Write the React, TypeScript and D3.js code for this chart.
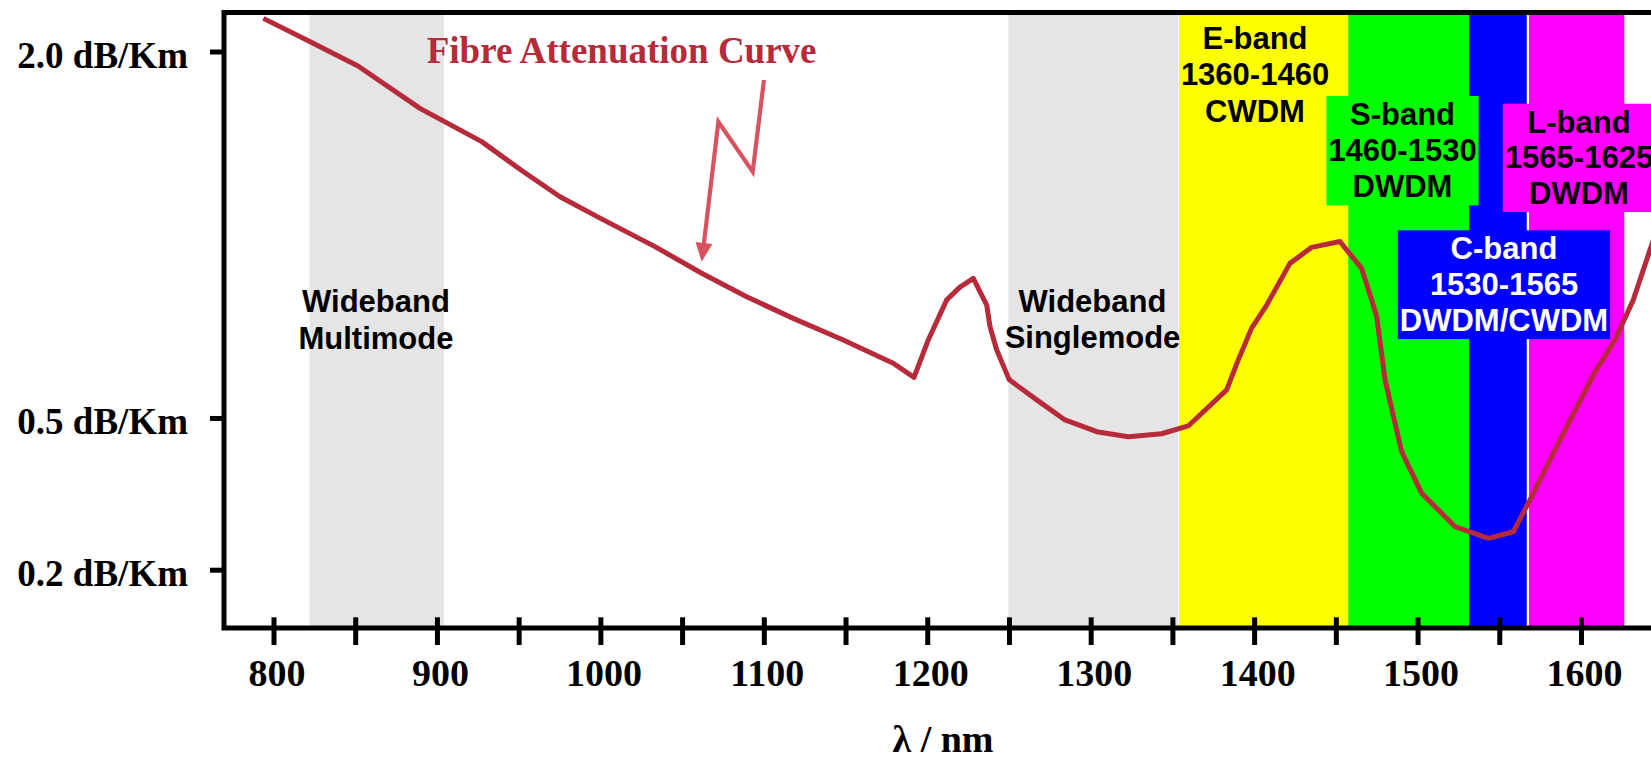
import * as d3 from 'd3';
import React, { useRef, useEffect } from 'react';

// attenuation curve (nm, dB/Km)
const wavelengths = [793.8, 820.3, 851.7, 889.6, 927.4, 951.4, 975.3, 999.8, 1033.4, 1062.0, 1089.5, 1118.0, 1148.6, 1179.2, 1191.9, 1200.6, 1211.9, 1220.0, 1228.2, 1236.4, 1238.4, 1242.5, 1250.2, 1267.0, 1284.3, 1303.7, 1323.0, 1343.4, 1359.7, 1383.2, 1390.3, 1398.5, 1407.7, 1421.9, 1435.2, 1452.5, 1465.8, 1471.9, 1475.0, 1480.1, 1490.3, 1502.5, 1522.9, 1543.3, 1558.6, 1568.8, 1589.2, 1608.6, 1620.8, 1632.0, 1642.2, 1651.4];
const attenuation = [2.198, 2.067, 1.917, 1.686, 1.517, 1.381, 1.260, 1.168, 1.052, 0.950, 0.865, 0.791, 0.721, 0.650, 0.609, 0.721, 0.854, 0.899, 0.931, 0.836, 0.764, 0.690, 0.602, 0.547, 0.495, 0.466, 0.454, 0.461, 0.480, 0.574, 0.660, 0.759, 0.836, 0.987, 1.049, 1.072, 0.968, 0.854, 0.797, 0.602, 0.419, 0.331, 0.269, 0.249, 0.260, 0.318, 0.462, 0.625, 0.721, 0.854, 1.039, 1.220];

const xTicks = d3.range(800, 1651, 50);
const yTicks = [0.2, 0.5, 2.0];

// wavelength bands (nm)
const bandStart = [822, 1249.6, 1354, 1457.6, 1531.6, 1568.2];
const bandEnd = [904.3, 1353.4, 1457.6, 1531.6, 1566.8, 1626.5];
const bandText = [
    ['Wideband', 'Multimode'],
    ['Wideband', 'Singlemode'],
    ['E-band', '1360-1460', 'CWDM'],
    ['S-band', '1460-1530', 'DWDM'],
    ['C-band', '1530-1565', 'DWDM/CWDM'],
    ['L-band', '1565-1625', 'DWDM'],
];

// pointer arrow (nm, dB/Km)
const arrowNm = [1100.1, 1093.2, 1072.2, 1062.0];
const arrowDb = [1.8385, 1.3733, 1.6169, 0.9932];

const bandColors = ['#e5e5e5', '#e5e5e5', '#ffff00', '#00ff00', '#0000ff', '#ff00ff'];
const bandTextColors = ['#000', '#000', '#000', '#000', '#fff', '#000'];
const bandBoxed = [false, false, false, true, true, true];
// centre x, first baseline, line height
const labelPos = [
    { cx: 376, y: 311.7, lh: 37.6 },
    { cx: 1092.5, y: 311.7, lh: 36.6 },
    { cx: 1255, y: 48.5, lh: 36.6 },
    { cx: 1402.5, y: 125, lh: 36.2 },
    { cx: 1504, y: 259.3, lh: 35.9 },
    { cx: 1579, y: 132.7, lh: 35.7 },
];

const WIDTH = 1651;
const HEIGHT = 757;
const frame = { left: 224, top: 12.5, bottom: 628, right: 1720 };
const CURVE = '#b72a3a';
const ARROW = '#d8535f';
const SERIF = '"Liberation Serif", "Times New Roman", serif';
const SANS = '"Liberation Sans", Arial, sans-serif';

function App() {
    const ref = useRef<SVGSVGElement>(null);

    useEffect(() => {
        const svg = d3.select(ref.current);
        svg.selectAll('*').remove();

        const x = d3.scaleLinear().domain([800, 1600]).range([273.5, 1581]);
        const y = d3.scalePow().exponent(0.4).domain([0.2, 2.0]).range([569.7, 51.5]);

        // bands
        svg.append('g')
            .selectAll('rect')
            .data(bandStart)
            .enter()
            .append('rect')
            .attr('x', (d) => x(d))
            .attr('y', frame.top)
            .attr('width', (d, i) => x(bandEnd[i]) - x(d))
            .attr('height', frame.bottom - frame.top)
            .attr('fill', (d, i) => bandColors[i]);

        // curve
        const pts = wavelengths.map((w, i) => [w, attenuation[i]]);
        const line = d3.line().x((d) => x(d[0])).y((d) => y(d[1]));
        svg.append('path')
            .datum(pts)
            .attr('d', line)
            .attr('fill', 'none')
            .attr('stroke', CURVE)
            .attr('stroke-width', 5)
            .attr('stroke-linejoin', 'round');

        // band labels
        const labels = svg.append('g')
            .attr('font-family', SANS)
            .attr('font-weight', 'bold')
            .attr('font-size', 31)
            .attr('text-anchor', 'middle');
        bandText.forEach((lines, i) => {
            const p = labelPos[i];
            const g = labels.append('g');
            const t = g.append('text').attr('fill', bandTextColors[i]);
            lines.forEach((s, j) => {
                t.append('tspan').attr('x', p.cx).attr('y', p.y + j * p.lh).text(s);
            });
            if (bandBoxed[i]) {
                const b = (t.node() as SVGTextElement).getBBox();
                g.insert('rect', 'text')
                    .attr('x', b.x - 2)
                    .attr('y', b.y - 1)
                    .attr('width', b.width + 4)
                    .attr('height', b.height + 2)
                    .attr('fill', bandColors[i]);
            }
        });

        // title
        svg.append('text')
            .attr('x', 426.7)
            .attr('y', 62.7)
            .attr('font-family', SERIF)
            .attr('font-weight', 'bold')
            .attr('font-size', 37)
            .attr('fill', CURVE)
            .text('Fibre Attenuation Curve');

        // arrow
        const ap = arrowNm.map((n, i) => [x(n), y(arrowDb[i])]);
        const tip = ap[ap.length - 1];
        const prev = ap[ap.length - 2];
        const len = Math.hypot(tip[0] - prev[0], tip[1] - prev[1]);
        const ux = (tip[0] - prev[0]) / len;
        const uy = (tip[1] - prev[1]) / len;
        const headLen = 19, headHalf = 8.5;
        const shaft = ap.slice(0, -1).concat([[tip[0] - ux * (headLen - 3), tip[1] - uy * (headLen - 3)]]);
        svg.append('path')
            .datum(shaft)
            .attr('d', d3.line())
            .attr('fill', 'none')
            .attr('stroke', ARROW)
            .attr('stroke-width', 4.2)
            .attr('stroke-linejoin', 'miter');
        const bx = tip[0] - ux * headLen, by = tip[1] - uy * headLen;
        svg.append('path')
            .attr('d', `M${tip[0]},${tip[1]}L${bx - uy * headHalf},${by + ux * headHalf}L${bx + uy * headHalf},${by - ux * headHalf}Z`)
            .attr('fill', ARROW);

        // frame
        svg.append('path')
            .attr('d', `M${frame.right},${frame.top}H${frame.left}V${frame.bottom}H${frame.right}`)
            .attr('fill', 'none')
            .attr('stroke', '#000')
            .attr('stroke-width', 5);

        // x axis
        const gx = svg.append('g')
            .attr('transform', 'translate(0,617.3)')
            .call(d3.axisBottom(x).tickValues(xTicks).tickSize(27.7)
                .tickFormat((d) => (d % 100 === 0 ? String(d) : '')));
        gx.select('.domain').remove();
        gx.attr('font-family', SERIF).attr('font-size', 38).attr('font-weight', 'bold');
        gx.selectAll('.tick line').attr('stroke', '#000').attr('stroke-width', 5);
        gx.selectAll('.tick text').attr('y', 68.7).attr('dy', 0).attr('dx', 3).attr('fill', '#000');

        // y axis
        const gy = svg.append('g')
            .attr('transform', `translate(${frame.left},0)`)
            .call(d3.axisLeft(y).tickValues(yTicks).tickSize(14)
                .tickFormat((d) => `${d3.format('.1f')(d)} dB/Km`));
        gy.select('.domain').remove();
        gy.attr('font-family', SERIF).attr('font-size', 37).attr('font-weight', 'bold');
        gy.selectAll('.tick line').attr('stroke', '#000').attr('stroke-width', 5);
        gy.selectAll('.tick text').attr('x', -36).attr('dy', 0).attr('y', 15.5).attr('fill', '#000');

        svg.append('text')
            .attr('x', 943)
            .attr('y', 752)
            .attr('text-anchor', 'middle')
            .attr('font-family', SERIF)
            .attr('font-weight', 'bold')
            .attr('font-size', 38)
            .text('λ / nm');
    }, []);

    return (
        <svg
            ref={ref}
            width={WIDTH}
            height={HEIGHT}
            style={{ position: 'absolute', left: 0, top: 0, background: '#fff' }}
        />
    );
}

export default App;
